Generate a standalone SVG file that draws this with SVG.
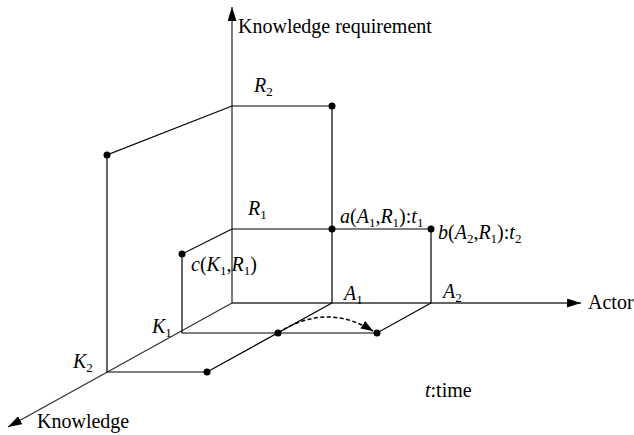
<svg xmlns="http://www.w3.org/2000/svg" width="634" height="435" viewBox="0 0 634 435" font-family="'Liberation Serif', 'Times New Roman', serif" font-size="20">
<style>
text{font-family:'Liberation Serif','Times New Roman',serif;font-size:20px;fill:#000}
.i{font-style:italic}
.s{font-size:13px;font-style:normal}
.ln{stroke:#000;stroke-width:1.2;fill:none}
.ax{stroke:#333;stroke-width:1.3;fill:none}
.dot{fill:#000}
</style>
<defs>
<marker id="ah" viewBox="0 0 14 9" refX="14" refY="4.5" markerWidth="14" markerHeight="9" markerUnits="userSpaceOnUse" orient="auto">
<path d="M0,0 L14,4.5 L0,9 Z" fill="#000"/>
</marker>
<marker id="ah2" viewBox="0 0 12 9" refX="12" refY="4.5" markerWidth="12" markerHeight="9" markerUnits="userSpaceOnUse" orient="auto">
<path d="M0,0 L12,4.5 L0,9 Z" fill="#000"/>
</marker>
</defs>
<rect width="634" height="435" fill="#fff"/>
<g id="connectors">
<line class="ax" x1="232" y1="303" x2="232" y2="7" marker-end="url(#ah)"/>
<line class="ax" x1="232" y1="303" x2="581" y2="303" marker-end="url(#ah)"/>
<line class="ax" x1="232" y1="303" x2="8" y2="427" marker-end="url(#ah)"/>
<polyline class="ln" points="232,106 332,106 332,303"/>
<polyline class="ln" points="232,106 107,155 107,372 207,372"/>
<polyline class="ln" points="232,229 431,229 431,303"/>
<polyline class="ln" points="232,229 182,254 182,333 377,333 431,303"/>
<line class="ln" x1="332" y1="303" x2="207" y2="372"/>
<path d="M278,333 Q326,302 373,331" stroke="#000" stroke-width="1.5" fill="none" stroke-dasharray="4,2.5" marker-end="url(#ah2)"/>
</g>
<g id="axis-labels">
<text x="238" y="33">Knowledge requirement</text>
<text x="588" y="309">Actor</text>
<text x="37" y="428">Knowledge</text>
<text x="425" y="397"><tspan class="i">t</tspan>:time</text>
</g>
<g id="R2"><text class="i" x="254" y="92">R<tspan class="s" dy="4">2</tspan></text></g>
<g id="R1"><text class="i" x="248" y="215">R<tspan class="s" dy="4">1</tspan></text></g>
<g id="A1"><text class="i" x="344" y="300">A<tspan class="s" dy="4">1</tspan></text></g>
<g id="A2"><text class="i" x="443" y="298">A<tspan class="s" dy="4">2</tspan></text></g>
<g id="K1"><text class="i" x="152" y="333">K<tspan class="s" dy="4">1</tspan></text></g>
<g id="K2"><text class="i" x="73" y="368">K<tspan class="s" dy="4">2</tspan></text></g>
<g id="p-R2A1"><circle class="dot" cx="332" cy="106" r="3.5"/></g>
<g id="p-R2K2"><circle class="dot" cx="107" cy="155" r="3.5"/></g>
<g id="a"><circle class="dot" cx="332" cy="229" r="3.5"/>
<text x="340" y="223"><tspan class="i">a</tspan>(<tspan class="i">A</tspan><tspan class="s" dy="4">1</tspan><tspan dy="-4">,</tspan><tspan class="i">R</tspan><tspan class="s" dy="4">1</tspan><tspan dy="-4">):</tspan><tspan class="i">t</tspan><tspan class="s" dy="4">1</tspan></text></g>
<g id="b"><circle class="dot" cx="431" cy="229" r="3.5"/>
<text x="438" y="239"><tspan class="i">b</tspan>(<tspan class="i">A</tspan><tspan class="s" dy="4">2</tspan><tspan dy="-4">,</tspan><tspan class="i">R</tspan><tspan class="s" dy="4">1</tspan><tspan dy="-4">):</tspan><tspan class="i">t</tspan><tspan class="s" dy="4">2</tspan></text></g>
<g id="c"><circle class="dot" cx="182" cy="254" r="3.5"/>
<text x="191" y="271"><tspan class="i">c</tspan>(<tspan class="i">K</tspan><tspan class="s" dy="4">1</tspan><tspan dy="-4">,</tspan><tspan class="i">R</tspan><tspan class="s" dy="4">1</tspan><tspan dy="-4">)</tspan></text></g>
<g id="p-K1A1"><circle class="dot" cx="278" cy="333" r="3.5"/></g>
<g id="p-K1A2"><circle class="dot" cx="377" cy="333" r="3.5"/></g>
<g id="p-K2A1"><circle class="dot" cx="207" cy="372" r="3.5"/></g>
</svg>
